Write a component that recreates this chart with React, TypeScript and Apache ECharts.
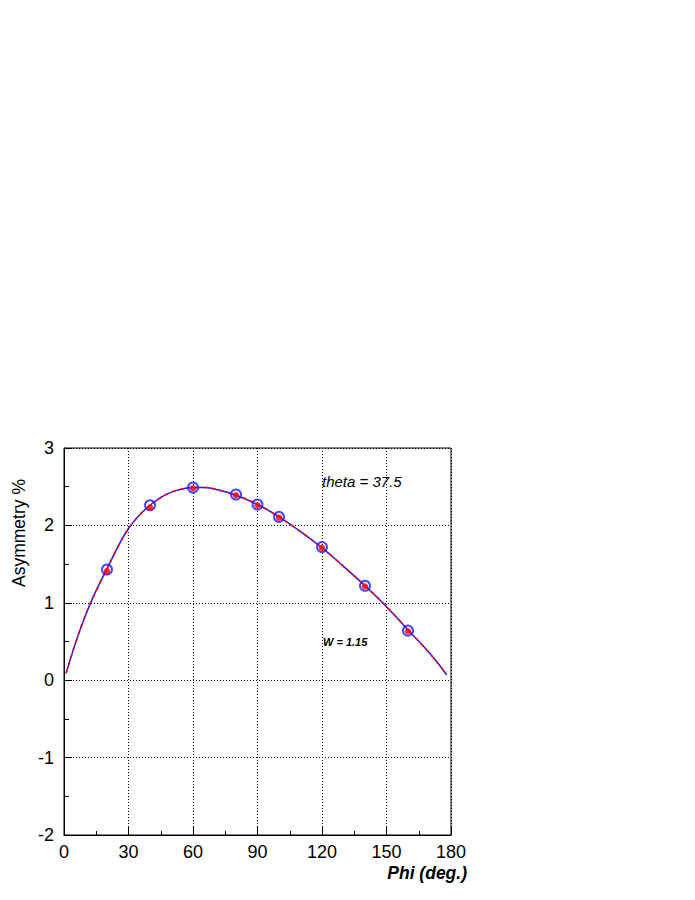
import React, { useEffect, useRef } from "react";
import * as echarts from "echarts";

// Fitted curves
const curvePhi = [1, 5, 10, 15, 20, 25, 30, 35, 40, 45, 50, 55, 60, 65, 70, 80, 90, 100, 110, 120, 130, 140, 150, 160, 170, 178];
const curveAsym = [0.09, 0.45, 0.84, 1.16, 1.44, 1.72, 1.96, 2.13, 2.26, 2.36, 2.43, 2.47, 2.49, 2.49, 2.47, 2.39, 2.27, 2.11, 1.92, 1.71, 1.47, 1.22, 0.95, 0.65, 0.35, 0.07];

// Data points
const pointPhi = [20, 40, 60, 80, 90, 100, 120, 140, 160];
const blueAsym = [1.43, 2.26, 2.49, 2.40, 2.27, 2.11, 1.72, 1.22, 0.64];
const redAsym = [1.41, 2.23, 2.48, 2.39, 2.26, 2.10, 1.71, 1.21, 0.63];

const xTicks = [0, 30, 60, 90, 120, 150, 180];
const yTicks = [-2, -1, 0, 1, 2, 3];

const FONT = "'Liberation Sans', Arial, Helvetica, sans-serif";

export default function App() {
  const ref = useRef<HTMLDivElement>(null);
  useEffect(() => {
    if (!ref.current) return;
    const chart = echarts.init(ref.current, null, { renderer: "svg" });
    const curve = curvePhi.map((p, i) => [p, curveAsym[i]]);
    const blue = pointPhi.map((p, i) => [p, blueAsym[i]]);
    const red = pointPhi.map((p, i) => [p, redAsym[i]]);
    chart.setOption({
      animation: false,
      backgroundColor: "#fff",
      grid: {
        left: 64,
        top: 448,
        right: 244,
        bottom: 65,
        show: true,
        borderColor: "#000",
        borderWidth: 1,
        backgroundColor: "transparent",
      },
      xAxis: {
        type: "value",
        min: xTicks[0],
        max: xTicks[xTicks.length - 1],
        interval: 30,
        axisLine: { show: true, onZero: false, lineStyle: { color: "#000", width: 1 } },
        axisTick: { show: true, inside: true, length: 8, lineStyle: { color: "#000" } },
        minorTick: { show: true, splitNumber: 2, length: 4, lineStyle: { color: "#000" } },
        axisLabel: { color: "#000", fontSize: 18, fontFamily: FONT, margin: 8 },
        splitLine: { show: true, lineStyle: { color: "#000", type: [1, 2], width: 1 } },
      },
      yAxis: {
        type: "value",
        min: yTicks[0],
        max: yTicks[yTicks.length - 1],
        interval: 1,
        axisLine: { show: true, onZero: false, lineStyle: { color: "#000", width: 1 } },
        axisTick: { show: true, inside: true, length: 8, lineStyle: { color: "#000" } },
        minorTick: { show: true, splitNumber: 2, length: 5, lineStyle: { color: "#000" } },
        axisLabel: { color: "#000", fontSize: 18, fontFamily: FONT, margin: 10 },
        splitLine: { show: true, lineStyle: { color: "#000", type: [1, 2], width: 1 } },
      },
      series: [
        {
          type: "line",
          data: curve,
          smooth: 0.5,
          symbol: "none",
          lineStyle: { color: "#1a1aff", width: 1.5 },
          z: 2,
        },
        {
          type: "line",
          data: curve,
          smooth: 0.5,
          symbol: "none",
          lineStyle: { color: "#ff0000", width: 1.5, type: [4, 4] },
          z: 3,
        },
        {
          type: "scatter",
          data: blue,
          symbol: "circle",
          symbolSize: 10,
          itemStyle: { color: "rgba(0,0,0,0)", borderColor: "#1a1aff", borderWidth: 2 },
          z: 4,
        },
        {
          type: "scatter",
          data: red,
          symbol: "circle",
          symbolSize: 6.5,
          itemStyle: { color: "#ff0000" },
          z: 5,
        },
      ],
      graphic: [
        {
          type: "text",
          x: 467,
          y: 873,
          style: {
            text: "Phi (deg.)",
            fontFamily: FONT,
            fontSize: 17.5,
            fontWeight: "bold",
            fontStyle: "italic",
            fill: "#000",
            textAlign: "right",
            textVerticalAlign: "middle",
          },
        },
        {
          type: "text",
          x: 19,
          y: 533,
          rotation: Math.PI / 2,
          style: {
            text: "Asymmetry %",
            fontFamily: FONT,
            fontSize: 17.5,
            fill: "#000",
            textAlign: "center",
            textVerticalAlign: "middle",
          },
        },
        {
          type: "text",
          x: 322,
          y: 481,
          style: {
            text: "theta = 37.5",
            fontFamily: FONT,
            fontSize: 15,
            fontStyle: "italic",
            fill: "#000",
            textAlign: "left",
            textVerticalAlign: "middle",
          },
        },
        {
          type: "text",
          x: 323,
          y: 642,
          style: {
            text: "W = 1.15",
            fontFamily: FONT,
            fontSize: 11,
            fontWeight: "bold",
            fontStyle: "italic",
            fill: "#000",
            textAlign: "left",
            textVerticalAlign: "middle",
          },
        },
      ],
    });
    return () => chart.dispose();
  }, []);
  return (
    <div
      ref={ref}
      style={{ position: "fixed", left: 0, top: 0, width: 695, height: 900, background: "#fff" }}
    />
  );
}
